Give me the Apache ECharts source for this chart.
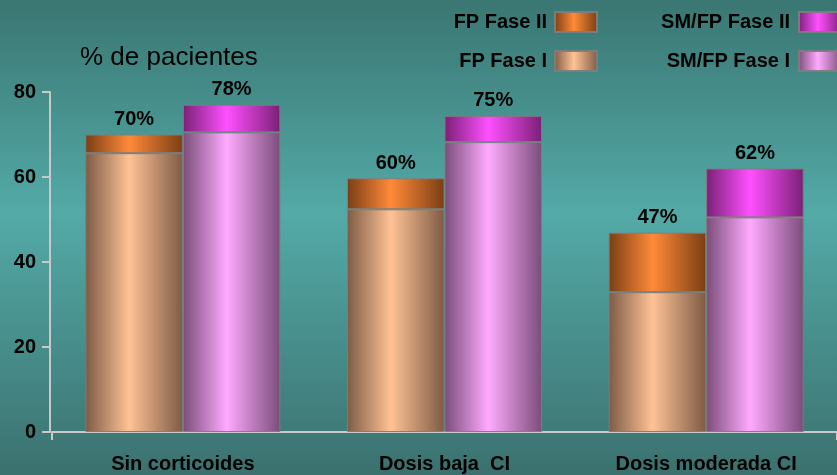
<!DOCTYPE html>
<html>
<head>
<meta charset="utf-8">
<script src="https://cdn.jsdelivr.net/npm/echarts@6/dist/echarts.min.js"></script>
<style>
html,body{margin:0;padding:0;}
#chart{width:837px;height:475px;}
</style>
</head>
<body>
<div id="chart"></div>
<script>
const categories = ['Sin corticoides', 'Dosis baja  CI', 'Dosis moderada CI'];
const fpPhase1 = [65.6, 52.4, 32.9];
const fpPhase2 = [4.4, 7.3, 14.0];
const smPhase1 = [70.5, 68.2, 50.5];
const smPhase2 = [6.5, 6.2, 11.5];
const fpLabels = ['70%', '60%', '47%'];
const smLabels = ['78%', '75%', '62%'];
const yTicks = [0, 20, 40, 60, 80];

function grad(dark, light) {
  return new echarts.graphic.LinearGradient(0, 0, 1, 0, [
    {offset: 0, color: dark},
    {offset: 0.45, color: light},
    {offset: 1, color: dark}
  ]);
}
const fp1Color = grad('#7d5b45', '#ffc295');
const fp2Color = grad('#7a3e15', '#ff8a38');
const sm1Color = grad('#7a4d79', '#ffaaff');
const sm2Color = grad('#7a2076', '#ff50ff');

const chart = echarts.init(document.getElementById('chart'));
const font = 'Liberation Sans, Arial, sans-serif';
const barW = 97.5;
const border = {borderColor: 'rgba(125,125,125,0.95)', borderWidth: 1};
const labelStyle = {show: true, position: 'top', distance: 5, color: '#000', fontFamily: font, fontWeight: 'bold', fontSize: 20};
const legendText = {fontFamily: font, fontWeight: 'bold', fontSize: 20, color: '#000', lineHeight: 20};

chart.setOption({
  backgroundColor: new echarts.graphic.LinearGradient(0, 0, 0, 1, [
    {offset: 0, color: '#3a7672'},
    {offset: 0.45, color: '#53aaa7'},
    {offset: 1, color: '#3b716f'}
  ]),
  animation: false,
  title: {
    text: '% de pacientes', left: 75, top: 40,
    textStyle: {fontFamily: font, fontWeight: 'normal', fontSize: 26, color: '#000'}
  },
  legend: [{
    data: ['FP Fase II', 'FP Fase I'],
    orient: 'vertical', align: 'right', right: 239, top: 11, padding: 0,
    icon: 'rect', itemWidth: 42, itemHeight: 20, itemGap: 17,
    textStyle: Object.assign({padding: [0, 3, 0, 0]}, legendText),
    selectedMode: false
  }, {
    data: ['SM/FP Fase II', 'SM/FP Fase I'],
    orient: 'vertical', align: 'right', right: -5, top: 11, padding: 0,
    icon: 'rect', itemWidth: 42, itemHeight: 20, itemGap: 17,
    textStyle: Object.assign({padding: [0, 4, 0, 0]}, legendText),
    selectedMode: false
  }],
  grid: {left: 52, width: 789, top: 92, bottom: 43, containLabel: false},
  xAxis: {
    type: 'category', data: categories,
    axisLine: {lineStyle: {color: '#c9c9c9', width: 2}},
    axisTick: {show: true, length: 8, interval: function (i) { return i === 0; }, lineStyle: {color: '#c9c9c9', width: 2}},
    axisLabel: {margin: 22, color: '#000', fontFamily: font, fontWeight: 'bold', fontSize: 20, interval: 0}
  },
  yAxis: {
    type: 'value', min: yTicks[0], max: yTicks[yTicks.length - 1], interval: 20, offset: 2,
    splitLine: {show: false},
    axisLine: {show: true, lineStyle: {color: '#c9c9c9', width: 2}},
    axisTick: {show: true, length: 8, lineStyle: {color: '#c9c9c9', width: 2}},
    axisLabel: {margin: 14, color: '#000', fontFamily: font, fontWeight: 'bold', fontSize: 20}
  },
  series: [
    {name: 'FP Fase I', type: 'bar', stack: 'fp', data: fpPhase1, barWidth: barW, barGap: '0%',
     itemStyle: Object.assign({color: fp1Color}, border)},
    {name: 'FP Fase II', type: 'bar', stack: 'fp', data: fpPhase2, barWidth: barW, barGap: '0%',
     itemStyle: Object.assign({color: fp2Color}, border),
     label: Object.assign({formatter: p => fpLabels[p.dataIndex]}, labelStyle)},
    {name: 'SM/FP Fase I', type: 'bar', stack: 'sm', data: smPhase1, barWidth: barW, barGap: '0%',
     itemStyle: Object.assign({color: sm1Color}, border)},
    {name: 'SM/FP Fase II', type: 'bar', stack: 'sm', data: smPhase2, barWidth: barW, barGap: '0%',
     itemStyle: Object.assign({color: sm2Color}, border),
     label: Object.assign({formatter: p => smLabels[p.dataIndex]}, labelStyle)}
  ]
});
</script>
</body>
</html>
